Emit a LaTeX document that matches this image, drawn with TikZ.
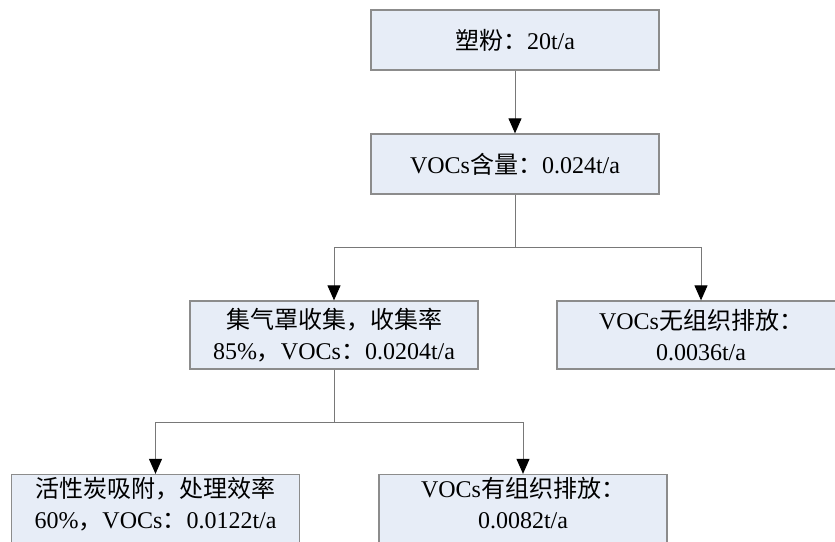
\documentclass[tikz,border=0pt]{standalone}
\usepackage{fontspec}
\setmainfont{Liberation Serif}
\newfontfamily\cjkfont{Noto Sans CJK SC}
\newcommand\zhc[1]{{\cjkfont #1}}
\usetikzlibrary{arrows.meta}
\definecolor{boxfill}{RGB}{231,237,247}
\definecolor{boxline}{RGB}{140,140,140}
\definecolor{conline}{RGB}{120,120,120}
\begin{document}
\begin{tikzpicture}[x=1pt,y=-1pt,
  flowbox/.style={draw=boxline, line width=1.3pt, fill=boxfill,
    minimum width=288pt, inner sep=0pt, align=center,
    font=\fontsize{24}{30.5}\selectfont},
  lowbox/.style={flowbox, minimum height=76pt, text depth=19pt},
  conn/.style={draw=conline, line width=1pt},
  arr/.style={conn, -{Triangle[width=13pt,length=15pt,color=black]}}]
\useasboundingbox (0,0) rectangle (835,541);
\clip (0,0) rectangle (835,541);

\node[flowbox, minimum height=60pt] (b1) at (515,40) {\zhc{塑粉：}20t/a};
\node[flowbox, minimum height=60pt] (b2) at (515,164) {VOCs\zhc{含量：}0.024t/a};
\node[flowbox, minimum height=68pt] (b3) at (334,335)
  {\zhc{集气罩收集，收集率}\\85\%\zhc{，}VOCs\zhc{：}0.0204t/a};
\node[flowbox, minimum height=68pt] (b4) at (701,335)
  {VOCs\zhc{无组织排放：}\\0.0036t/a};
\node[lowbox] (b5) at (155.5,512.5)
  {\zhc{活性炭吸附，处理效率}\\60\%\zhc{，}VOCs\zhc{：}0.0122t/a};
\node[lowbox] (b6) at (523,512.5)
  {VOCs\zhc{有组织排放：}\\0.0082t/a};

\coordinate (j1) at (515,247);
\coordinate (j2) at (334,422);

\draw[arr] (b1.south) -- (b2.north);
\draw[conn] (b2.south) -- (j1);
\draw[arr] (j1) -| (b3.north);
\draw[arr] (j1) -| (b4.north);
\draw[conn] (b3.south) -- (j2);
\draw[arr] (j2) -| (b5.north);
\draw[arr] (j2) -| (b6.north);
\end{tikzpicture}
\end{document}
